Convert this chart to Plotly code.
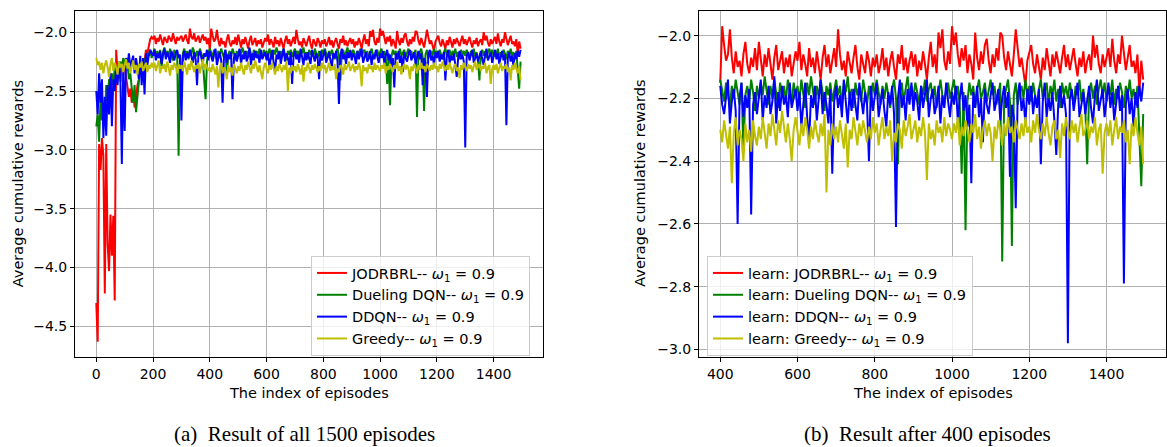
import plotly.graph_objects as go

# ---------------- data (one value every 5 episodes) ----------------
EPISODES = list(range(0, 1500, 5))
START_B = 400

RED = [
    -4.30, -4.63, -2.95, -3.17, -2.90, -3.05, -4.22, -2.95, -3.80, -4.03, -3.55, -3.90, -3.56, -4.28, -2.15, -2.35, -2.30, -2.42, -2.28, -2.25,
    -2.30, -2.38, -2.45, -2.55, -2.48, -2.60, -2.50, -2.64, -2.56, -2.45, -2.40, -2.30, -2.35, -2.22, -2.25, -2.15, -2.18, -2.10, -2.06, -2.04,
    -2.06, -2.03, -2.10, -2.05, -2.08, -2.02, -2.07, -2.11, -2.04, -2.06, -2.09, -2.03, -2.05, -2.08, -2.01, -2.06, -2.10, -2.04, -2.07, -2.05,
    -2.03, -2.08, -2.05, -2.02, -2.07, -2.10, -1.97, -2.04, -2.06, -2.01, -2.08, -2.05, -2.03, -2.09, -2.06, -2.02, -2.07, -2.04, -2.10, -2.05,
    -2.15, -1.97, -2.03, -2.08, -2.06, -1.98, -2.07, -2.12, -2.05, -2.10, -2.08, -2.13, -2.06, -2.02, -2.09, -2.12, -2.07, -2.10, -2.04, -2.11,
    -2.02, -2.08, -2.13, -2.06, -2.10, -2.04, -2.09, -2.14, -2.07, -2.03, -2.11, -2.08, -2.05, -2.12, -2.07, -2.10, -2.06, -2.13, -2.09, -2.05,
    -2.08, -2.02, -2.11, -2.06, -2.09, -2.13, -2.04, -2.10, -2.07, -2.12, -2.05, -2.09, -2.14, -2.07, -2.03, -2.10, -2.06, -2.12, -2.08, -2.04,
    -2.10, -1.98, -2.06, -2.11, -2.08, -2.13, -2.05, -2.09, -2.12, -2.07, -2.03, -2.10, -2.14, -2.06, -2.09, -2.12, -2.05, -2.08, -2.13, -2.07,
    -2.10, -2.06, -2.12, -2.09, -2.04, -2.11, -2.07, -2.13, -2.08, -2.05, -2.10, -2.14, -2.06, -2.09, -2.03, -2.11, -2.07, -2.12, -2.08, -2.05,
    -2.10, -2.06, -2.13, -2.08, -2.11, -2.05, -2.09, -2.14, -2.07, -2.02, -2.10, -2.06, -2.12, -1.99, -2.04, -1.98, -2.08, -2.11, -2.05, -2.09,
    -1.97, -2.03, -1.99, -2.06, -2.10, -2.04, -2.08, -2.03, -2.12, -2.06, -2.09, -2.14, -1.99, -2.07, -2.11, -2.05, -2.09, -2.03, -2.01, -2.08,
    -2.12, -2.06, -2.10, -2.04, -2.08, -1.99, -2.00, -2.07, -2.11, -2.05, -2.09, -2.13, -2.06, -1.98, -2.04, -2.10, -2.07, -2.12, -2.16, -2.08,
    -2.05, -2.03, -2.09, -2.12, -2.06, -2.10, -2.14, -2.07, -2.11, -2.04, -2.09, -2.13, -2.06, -2.10, -2.05, -2.08, -2.12, -2.07, -2.03, -2.10,
    -2.06, -2.11, -2.08, -2.04, -2.09, -2.13, -2.07, -2.10, -2.05, -2.12, -2.08, -2.06, -2.11, -2.00, -2.07, -2.03, -2.09, -2.12, -2.06, -2.10,
    -2.07, -2.04, -2.10, -2.01, -2.08, -2.12, -2.06, -2.09, -2.00, -2.05, -2.11, -2.07, -2.03, -2.10, -2.08, -2.12, -2.06, -2.18, -2.08, -2.14,
]

GREEN = [
    -2.80, -2.70, -2.93, -2.55, -2.75, -2.60, -2.78, -2.45, -2.60, -2.40, -2.50, -2.35, -2.45, -2.30, -2.38, -2.28, -2.35, -2.25, -2.30, -2.22,
    -2.25, -2.30, -2.28, -2.40, -2.35, -2.50, -2.60, -2.45, -2.68, -2.55, -2.40, -2.30, -2.25, -2.32, -2.22, -2.25, -2.18, -2.20, -2.15, -2.22,
    -2.18, -2.14, -2.20, -2.16, -2.22, -2.15, -2.30, -2.17, -2.13, -2.19, -2.16, -2.21, -2.14, -2.18, -2.24, -2.15, -2.19, -2.17, -3.05, -2.22,
    -2.50, -2.18, -2.14, -2.20, -2.16, -2.23, -2.15, -2.19, -2.13, -2.17, -2.21, -2.16, -2.20, -2.14, -2.18, -2.22, -2.40, -2.57, -2.25, -2.17,
    -2.14, -2.17, -2.21, -2.15, -2.19, -2.23, -2.16, -2.20, -2.14, -2.18, -2.22, -2.15, -2.37, -2.19, -2.16, -2.21, -2.14, -2.18, -2.24, -2.16,
    -2.20, -2.15, -2.19, -2.13, -2.17, -2.22, -2.16, -2.20, -2.14, -2.18, -2.23, -2.15, -2.19, -2.16, -2.21, -2.14, -2.18, -2.22, -2.15, -2.19,
    -2.16, -2.21, -2.14, -2.18, -2.23, -2.15, -2.19, -2.13, -2.17, -2.22, -2.16, -2.20, -2.14, -2.18, -2.24, -2.16, -2.19, -2.15, -2.21, -2.17,
    -2.14, -2.19, -2.16, -2.22, -2.15, -2.18, -2.13, -2.20, -2.17, -2.23, -2.15, -2.19, -2.16, -2.21, -2.14, -2.18, -2.22, -2.16, -2.20, -2.15,
    -2.19, -2.14, -2.18, -2.22, -2.16, -2.20, -2.15, -2.19, -2.23, -2.17, -2.14, -2.20, -2.41, -2.18, -2.15, -2.21, -2.17, -2.13, -2.19, -2.16,
    -2.20, -2.15, -2.18, -2.22, -2.16, -2.19, -2.14, -2.21, -2.17, -2.15, -2.20, -2.16, -2.23, -2.18, -2.14, -2.19, -2.22, -2.17, -2.15, -2.20,
    -2.17, -2.14, -2.20, -2.16, -2.22, -2.44, -2.18, -2.62, -2.21, -2.15, -2.19, -2.16, -2.23, -2.17, -2.14, -2.20, -2.18, -2.15, -2.21, -2.17,
    -2.14, -2.19, -2.16, -2.22, -2.18, -2.15, -2.72, -2.20, -2.17, -2.14, -2.21, -2.67, -2.19, -2.15, -2.22, -2.18, -2.16, -2.20, -2.14, -2.19,
    -2.16, -2.21, -2.15, -2.19, -2.23, -2.17, -2.14, -2.20, -2.18, -2.15, -2.22, -2.16, -2.19, -2.14, -2.21, -2.17, -2.23, -2.15, -2.19, -2.16,
    -2.20, -2.15, -2.18, -2.22, -2.16, -2.19, -2.14, -2.21, -2.17, -2.23, -2.41, -2.18, -2.15, -2.20, -2.16, -2.22, -2.17, -2.14, -2.19, -2.15,
    -2.21, -2.16, -2.19, -2.14, -2.22, -2.17, -2.20, -2.15, -2.18, -2.23, -2.16, -2.19, -2.14, -2.20, -2.17, -2.22, -2.16, -2.30, -2.48, -2.25,
]

BLUE = [
    -2.50, -2.70, -2.35, -2.60, -2.40, -2.90, -2.55, -2.88, -2.45, -2.70, -2.35, -2.80, -2.40, -2.50, -2.30, -2.45, -2.25, -2.40, -3.12, -2.30,
    -2.84, -2.22, -2.28, -2.18, -2.30, -2.25, -2.20, -2.35, -2.22, -2.30, -2.40, -2.20, -2.45, -2.22, -2.53, -2.18, -2.28, -2.20, -2.15, -2.18,
    -2.20, -2.15, -2.24, -2.18, -2.22, -2.16, -2.27, -2.19, -2.14, -2.23, -2.17, -2.21, -2.26, -2.16, -2.20, -2.24, -2.18, -2.15, -2.22, -2.19,
    -2.75, -2.21, -2.16, -2.24, -2.18, -2.22, -2.15, -2.20, -2.26, -2.17, -2.23, -2.45, -2.19, -2.16, -2.22, -2.27, -2.18, -2.21, -2.15, -2.24,
    -2.16, -2.22, -2.25, -2.19, -2.14, -2.28, -2.21, -2.17, -2.24, -2.60, -2.20, -2.15, -2.26, -2.19, -2.23, -2.17, -2.57, -2.22, -2.18, -2.25,
    -2.20, -2.14, -2.27, -2.19, -2.23, -2.16, -2.25, -2.21, -2.13, -2.28, -2.18, -2.24, -2.16, -2.22, -2.19, -2.26, -2.15, -2.23, -2.20, -2.17,
    -2.24, -2.18, -2.29, -2.21, -2.15, -2.26, -2.34, -2.19, -2.23, -2.16, -2.27, -2.20, -2.14, -2.25, -2.18, -2.22, -2.28, -2.17, -2.44, -2.21,
    -2.16, -2.23, -2.19, -2.26, -2.14, -2.21, -2.28, -2.18, -2.24, -2.17, -2.22, -2.27, -2.15, -2.20, -2.25, -2.18, -2.22, -2.40, -2.16, -2.24,
    -2.19, -2.15, -2.26, -2.21, -2.17, -2.24, -2.29, -2.18, -2.22, -2.16, -2.25, -2.61, -2.20, -2.14, -2.23, -2.19, -2.27, -2.17, -2.22, -2.15,
    -2.24, -2.18, -2.21, -2.27, -2.16, -2.23, -2.19, -2.14, -2.26, -2.20, -2.17, -2.25, -2.22, -2.16, -2.28, -2.19, -2.23, -2.15, -2.21, -2.26,
    -2.18, -2.22, -2.16, -2.27, -2.20, -2.15, -2.24, -2.19, -2.29, -2.22, -2.47, -2.18, -2.23, -2.16, -2.26, -2.20, -2.34, -2.17, -2.22, -2.25,
    -2.19, -2.15, -2.24, -2.21, -2.17, -2.27, -2.20, -2.16, -2.23, -2.18, -2.45, -2.22, -2.26, -2.55, -2.19, -2.15, -2.24, -2.20, -2.28, -2.17,
    -2.22, -2.16, -2.25, -2.19, -2.23, -2.17, -2.41, -2.21, -2.15, -2.26, -2.20, -2.24, -2.18, -2.27, -2.38, -2.22, -2.16, -2.23, -2.19, -2.25,
    -2.98, -2.20, -2.17, -2.24, -2.19, -2.15, -2.26, -2.22, -2.18, -2.25, -2.20, -2.16, -2.23, -2.28, -2.19, -2.14, -2.24, -2.21, -2.17, -2.26,
    -2.20, -2.15, -2.23, -2.18, -2.27, -2.21, -2.16, -2.24, -2.19, -2.79, -2.22, -2.17, -2.25, -2.20, -2.29, -2.18, -2.23, -2.16, -2.21, -2.15,
]

YELLOW = [
    -2.22, -2.28, -2.25, -2.32, -2.26, -2.35, -2.28, -2.24, -2.30, -2.38, -2.27, -2.22, -2.33, -2.26, -2.30, -2.36, -2.25, -2.30, -2.27, -2.34,
    -2.28, -2.23, -2.31, -2.26, -2.35, -2.29, -2.24, -2.32, -2.28, -2.36, -2.27, -2.30, -2.25, -2.33, -2.29, -2.26, -2.34, -2.28, -2.31, -2.26,
    -2.30, -2.26, -2.33, -2.28, -2.24, -2.35, -2.29, -2.31, -2.27, -2.34, -2.25, -2.30, -2.37, -2.28, -2.32, -2.26, -2.29, -2.35, -2.27, -2.31,
    -2.28, -2.33, -2.25, -2.30, -2.36, -2.27, -2.32, -2.24, -2.29, -2.34, -2.28, -2.31, -2.26, -2.35, -2.29, -2.23, -2.32, -2.27, -2.30, -2.33,
    -2.30, -2.34, -2.27, -2.32, -2.36, -2.29, -2.47, -2.31, -2.26, -2.35, -2.30, -2.33, -2.40, -2.28, -2.34, -2.30, -2.37, -2.27, -2.32, -2.35,
    -2.29, -2.33, -2.26, -2.31, -2.36, -2.28, -2.32, -2.25, -2.30, -2.35, -2.27, -2.31, -2.24, -2.29, -2.34, -2.28, -2.33, -2.40, -2.30, -2.26,
    -2.31, -2.35, -2.28, -2.32, -2.26, -2.30, -2.36, -2.29, -2.33, -2.27, -2.31, -2.34, -2.28, -2.32, -2.25, -2.50, -2.30, -2.35, -2.28, -2.33,
    -2.29, -2.34, -2.27, -2.31, -2.36, -2.28, -2.42, -2.30, -2.33, -2.26, -2.31, -2.35, -2.28, -2.32, -2.27, -2.30, -2.34, -2.29, -2.33, -2.26,
    -2.31, -2.28, -2.35, -2.30, -2.26, -2.33, -2.29, -2.32, -2.27, -2.40, -2.31, -2.34, -2.28, -2.30, -2.36, -2.27, -2.32, -2.29, -2.25, -2.33,
    -2.30, -2.27, -2.34, -2.29, -2.32, -2.26, -2.31, -2.46, -2.28, -2.33, -2.30, -2.35, -2.27, -2.31, -2.29, -2.34, -2.26, -2.32, -2.28, -2.30,
    -2.33, -2.28, -2.31, -2.26, -2.35, -2.29, -2.32, -2.27, -2.30, -2.34, -2.28, -2.31, -2.25, -2.33, -2.29, -2.36, -2.30, -2.27, -2.32, -2.28,
    -2.31, -2.40, -2.29, -2.33, -2.27, -2.30, -2.35, -2.28, -2.32, -2.26, -2.31, -2.29, -2.34, -2.27, -2.30, -2.33, -2.28, -2.32, -2.26, -2.31,
    -2.29, -2.34, -2.27, -2.31, -2.25, -2.30, -2.33, -2.28, -2.32, -2.26, -2.31, -2.35, -2.29, -2.27, -2.33, -2.30, -2.39, -2.28, -2.32, -2.26,
    -2.30, -2.33, -2.27, -2.31, -2.28, -2.34, -2.29, -2.25, -2.32, -2.30, -2.27, -2.33, -2.29, -2.31, -2.26, -2.35, -2.30, -2.28, -2.44, -2.31,
    -2.28, -2.32, -2.27, -2.35, -2.30, -2.26, -2.33, -2.29, -2.31, -2.27, -2.34, -2.30, -2.41, -2.28, -2.32, -2.26, -2.31, -2.35, -2.29, -2.41,
]

SERIES_NAMES = ["JODRBRL", "Dueling DQN", "DDQN", "Greedy"]
SERIES_COLORS = ["#ff0000", "#008000", "#0000ff", "#bfbf00"]
OMEGA_1 = 0.9

X_TICKS_A = [0, 200, 400, 600, 800, 1000, 1200, 1400]
Y_TICKS_A = [-4.5, -4.0, -3.5, -3.0, -2.5, -2.0]
X_TICKS_B = [400, 600, 800, 1000, 1200, 1400]
Y_TICKS_B = [-3.0, -2.8, -2.6, -2.4, -2.2, -2.0]

CAPTION_A = "(a)&nbsp; Result of all 1500 episodes"
CAPTION_B = "(b)&nbsp; Result after 400 episodes"
X_TITLE = "The index of episodes"
Y_TITLE = "Average cumulative rewards"

for s in (RED, GREEN, BLUE, YELLOW):
    assert len(s) == len(EPISODES), len(s)

# ---------------- figure ----------------
W, H = 1167, 447
SANS = "DejaVu Sans"
SERIF = "Liberation Serif"
FS_TICK = 14
FS_TEXT = 14.5
FS_CAPTION = 21

def px_x(p):
    return p / W

def px_y(p):
    return 1 - p / H

fig = go.Figure()
all_series = [RED, GREEN, BLUE, YELLOW]

omega = "<i>ω</i><sub>1</sub> = " + str(OMEGA_1)
for name, vals, col in zip(SERIES_NAMES, all_series, SERIES_COLORS):
    fig.add_trace(go.Scatter(
        x=EPISODES, y=vals, mode="lines", name=f"{name}-- {omega}",
        line=dict(color=col, width=2), xaxis="x", yaxis="y", legend="legend",
    ))

idx_b = [i for i, e in enumerate(EPISODES) if e >= START_B]
for name, vals, col in zip(SERIES_NAMES, all_series, SERIES_COLORS):
    fig.add_trace(go.Scatter(
        x=[EPISODES[i] for i in idx_b], y=[vals[i] for i in idx_b], mode="lines",
        name=f"learn: {name}-- {omega}",
        line=dict(color=col, width=2), xaxis="x2", yaxis="y2", legend="legend2",
    ))

axis_common = dict(
    showline=True, mirror=True, linecolor="black", linewidth=1,
    ticks="outside", ticklen=4, tickwidth=1, tickcolor="black",
    showgrid=True, gridcolor="#b0b0b0", gridwidth=1, zeroline=False,
    tickfont=dict(family=SANS, size=FS_TICK, color="black"),
)

Y0, Y1 = px_y(357), px_y(10.5)

legend_common = dict(
    xanchor="left", yanchor="top",
    bgcolor="rgba(255,255,255,0.8)", bordercolor="#cccccc", borderwidth=1,
    font=dict(family=SANS, size=FS_TEXT, color="black"),
)

fig.update_layout(
    width=W, height=H,
    margin=dict(l=0, r=0, t=0, b=0),
    paper_bgcolor="white", plot_bgcolor="white",
    xaxis=dict(domain=[px_x(75), px_x(543)], range=[-75, 1574], tickvals=X_TICKS_A,
               anchor="y", **axis_common),
    yaxis=dict(domain=[Y0, Y1], range=[-4.76, -1.816], tickvals=Y_TICKS_A,
               tickformat=".1f", anchor="x", **axis_common),
    xaxis2=dict(domain=[px_x(699), px_x(1166)], range=[345, 1554], tickvals=X_TICKS_B,
                anchor="y2", **axis_common),
    yaxis2=dict(domain=[Y0, Y1], range=[-3.024, -1.92], tickvals=Y_TICKS_B,
                tickformat=".1f", anchor="x2", **axis_common),
    legend=dict(x=px_x(311), y=px_y(256), **legend_common),
    legend2=dict(x=px_x(707), y=px_y(256), **legend_common),
    showlegend=True,
)

ann = []
for xc in (309, 932.5):
    ann.append(dict(x=px_x(xc), y=px_y(393), xref="paper", yref="paper", text=X_TITLE,
                    showarrow=False, xanchor="center", yanchor="middle",
                    font=dict(family=SANS, size=FS_TEXT, color="black")))
for xc in (17.5, 640):
    ann.append(dict(x=px_x(xc), y=px_y(183.7), xref="paper", yref="paper", text=Y_TITLE,
                    showarrow=False, xanchor="center", yanchor="middle", textangle=-90,
                    font=dict(family=SANS, size=FS_TEXT, color="black")))
ann.append(dict(x=px_x(304), y=px_y(434), xref="paper", yref="paper", text=CAPTION_A,
                showarrow=False, xanchor="center", yanchor="middle",
                font=dict(family=SERIF, size=FS_CAPTION, color="black")))
ann.append(dict(x=px_x(927), y=px_y(434), xref="paper", yref="paper", text=CAPTION_B,
                showarrow=False, xanchor="center", yanchor="middle",
                font=dict(family=SERIF, size=FS_CAPTION, color="black")))
fig.update_layout(annotations=ann)

fig.write_html(
    "out.html",
    config={"displayModeBar": False},
    post_script="document.body.style.margin='0';document.body.style.overflow='hidden';",
)
